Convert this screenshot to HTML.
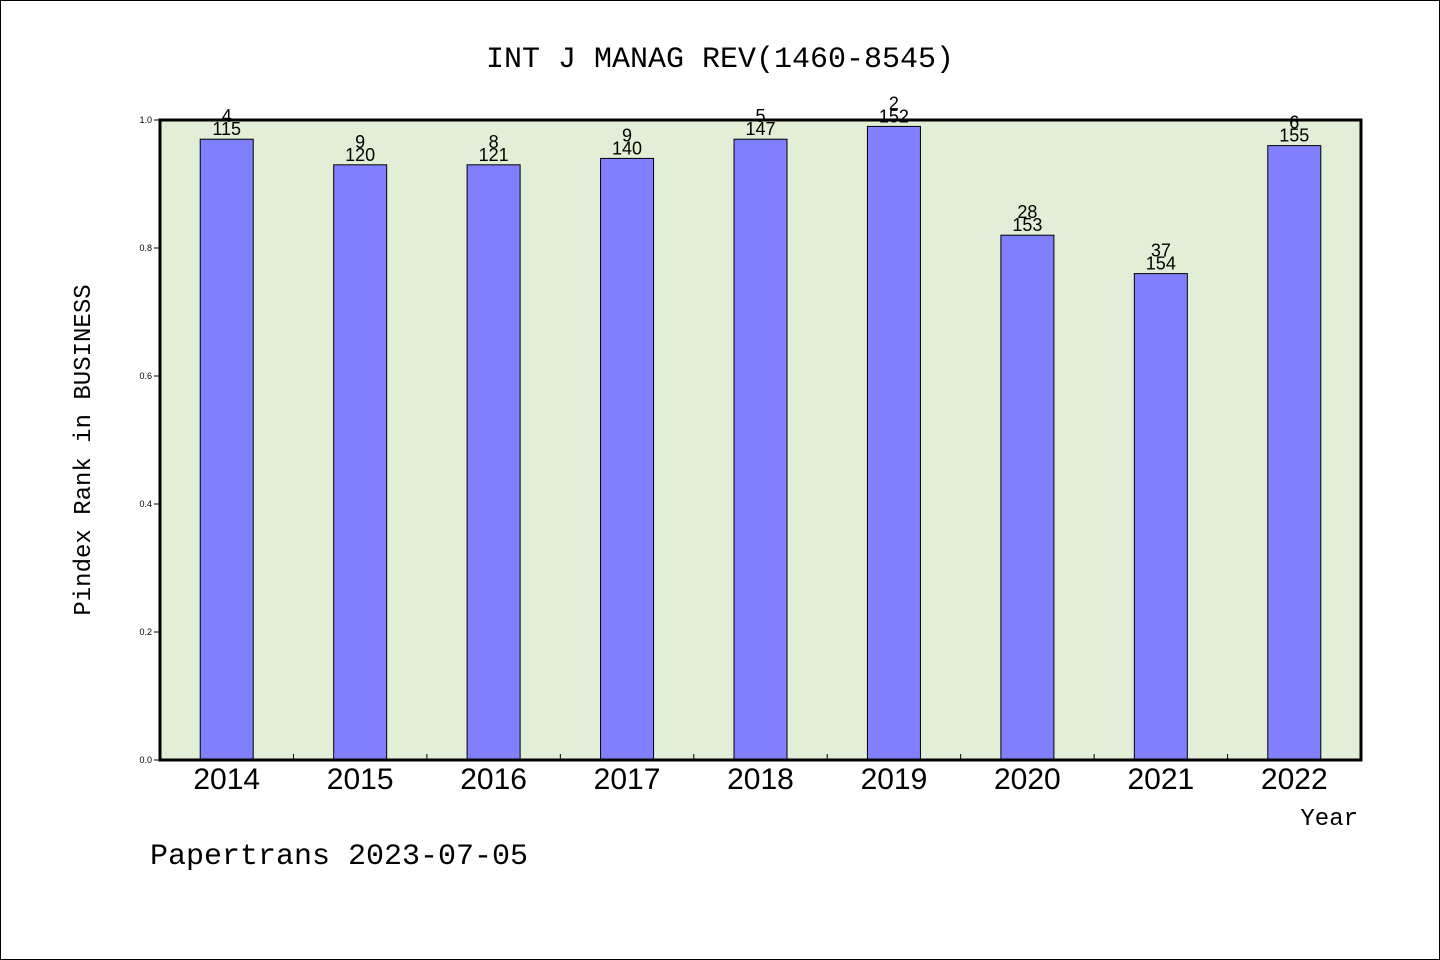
<!DOCTYPE html>
<html><head><meta charset="utf-8"><style>
html,body{margin:0;padding:0;background:#fff}
svg{display:block}
</style></head><body>
<svg id="chart" width="1440" height="960" xmlns="http://www.w3.org/2000/svg">
<rect x="0.5" y="0.5" width="1439" height="959" fill="#fff" stroke="#000"/>
<text x="720" y="67" text-anchor="middle" font-family="Liberation Mono, monospace" font-size="30">INT J MANAG REV(1460-8545)</text>
<rect x="160" y="120" width="1201" height="640" fill="#e2efd6"/>
<g id="bars"></g>
<g id="axes"></g>
<rect x="160" y="120" width="1201" height="640" fill="none" stroke="#000" stroke-width="3"/>
<text x="90" y="450" transform="rotate(-90 90 450)" text-anchor="middle" font-family="Liberation Mono, monospace" font-size="24">Pindex Rank in BUSINESS</text>
<text x="1358" y="825" text-anchor="end" font-family="Liberation Mono, monospace" font-size="24">Year</text>
<text x="150" y="864" font-family="Liberation Mono, monospace" font-size="30">Papertrans 2023-07-05</text>
</svg>
<script>
const categories = ["2014","2015","2016","2017","2018","2019","2020","2021","2022"];
const values = [0.97,0.93,0.93,0.94,0.97,0.99,0.82,0.76,0.96];
const ranks = ["4","9","8","9","5","2","28","37","6"];
const totals = ["115","120","121","140","147","152","153","154","155"];
const yTicks = [0,0.2,0.4,0.6,0.8,1.0];
const NS="http://www.w3.org/2000/svg";
const X0=160, W=1201, Y0=760, H=640;
const band=W/categories.length;
const xc=i=>X0+band*(i+0.5);
const y=v=>Y0-v*H;
const bars=document.getElementById('bars'), axes=document.getElementById('axes');
function mk(tag,attrs,parent){const e=document.createElementNS(NS,tag);for(const k in attrs)e.setAttribute(k,attrs[k]);parent.appendChild(e);return e;}
categories.forEach((c,i)=>{
  const r=mk('rect',{x:xc(i)-26.5,y:y(values[i]),width:53,height:Y0-y(values[i]),fill:'#8080ff',stroke:'#000','stroke-width':1},bars);
  
  
  const t1=mk('text',{x:xc(i),y:y(values[i])-4,'text-anchor':'middle','font-family':'Liberation Sans, sans-serif','font-size':18},bars);
  t1.textContent=totals[i];
  
  
  const t2=mk('text',{x:xc(i),y:y(values[i])-17,'text-anchor':'middle','font-family':'Liberation Sans, sans-serif','font-size':18},bars);
  t2.textContent=ranks[i];
  
  
  const xl=mk('text',{x:xc(i),y:789,'text-anchor':'middle','font-family':'Liberation Sans, sans-serif','font-size':30},axes);
  xl.textContent=c;
  
  
  if(i>0){
    const tk=mk('line',{x1:X0+band*i,x2:X0+band*i,y1:Y0,y2:Y0-6,stroke:'#000'},axes);
    
    
  }
});
yTicks.forEach(v=>{
  const tk=mk('line',{x1:X0-6,x2:X0,y1:y(v),y2:y(v),stroke:'#000'},axes);
  
  
  const tl=mk('text',{x:X0-8,y:y(v)+3,'text-anchor':'end','font-family':'Liberation Sans, sans-serif','font-size':9},axes);
  tl.textContent=v.toFixed(1);
  
  
});
</script>
</body></html>
